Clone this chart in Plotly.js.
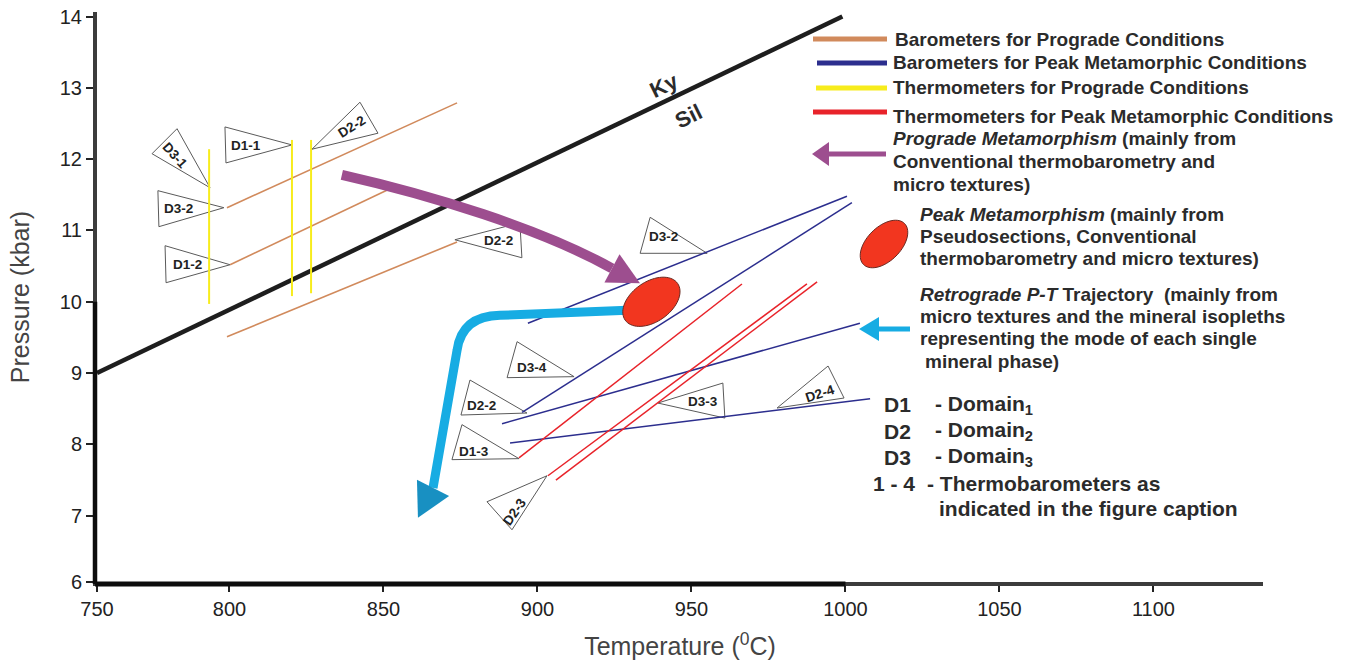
<!DOCTYPE html>
<html>
<head>
<meta charset="utf-8">
<script src="https://cdn.plot.ly/plotly-3.0.1.min.js"></script>
<style>
  html, body { margin: 0; padding: 0; background: #fff; }
  #chart { width: 1356px; height: 660px; }
</style>
</head>
<body>
<div id="chart"></div>
<script>
// ---- P-T data (temperature in deg C, pressure in kbar) ----

// kyanite / sillimanite boundary
const kySilT = [757, 999];
const kySilP = [9.0, 14.0];

// barometers for prograde conditions
const baroProT = [[799.2, 873.9], [800.2, 852.8], [799.2, 873.9]];
const baroProP = [[11.32, 12.79], [10.52, 11.60], [9.51, 10.84]];

// thermometers for prograde conditions
const thermoProT = [[793.4, 793.4], [820.3, 820.3], [826.5, 826.5]];
const thermoProP = [[12.14, 9.97], [12.27, 10.08], [12.27, 10.12]];

// barometers for peak metamorphic conditions
const baroPeakT = [[896.9, 1000.5], [895.0, 1002.1], [888.5, 1004.7], [891.1, 1008.0]];
const baroPeakP = [[9.70, 11.48], [8.45, 11.39], [8.29, 9.70], [8.02, 8.64]];

// thermometers for peak metamorphic conditions
const thermoPeakT = [[894.0, 966.4], [903.4, 987.5], [906.0, 990.8]];
const thermoPeakP = [[7.81, 10.25], [7.56, 10.25], [7.50, 10.28]];

// peak metamorphism field (centre)
const peakT = 937;
const peakP = 10.0;

// prograde path: start, two control points, shaft end, arrow tip
const progradeT = [836.5, 865.1, 900.8, 924.2, 933.3];
const progradeP = [11.78, 11.50, 11.03, 10.47, 10.26];

// retrograde path: start, corner, bend control, bend end, shaft end, arrow tip
const retroT = [929.1, 887.8, 875.5, 873.9, 866.1, 861.2];
const retroP = [9.88, 9.81, 9.80, 9.32, 7.39, 6.97];

// domain / thermobarometer flags and the P-T point each one marks
const flagLabels = ['D3-1', 'D1-1', 'D2-2', 'D3-2', 'D1-2', 'D2-2', 'D3-2', 'D3-4', 'D2-2', 'D1-3', 'D2-3', 'D3-3', 'D2-4'];
const flagT = [793.7, 820.3, 826.8, 798.2, 800.2, 873.2, 955.1, 911.9, 896.6, 894.0, 903.1, 939.1, 977.8];
const flagP = [11.60, 12.20, 12.14, 11.32, 10.52, 10.87, 10.68, 8.95, 8.44, 7.80, 7.56, 8.58, 8.51];

// axis ticks
const xTickVals = [757, 800, 850, 900, 950, 1000, 1050, 1100];
const xTickText = ['750', '800', '850', '900', '950', '1000', '1050', '1100'];
const yTickVals = [6.07, 7, 8, 9, 10, 11, 12, 13, 14];
const yTickText = ['6', '7', '8', '9', '10', '11', '12', '13', '14'];

// ---- layout geometry ----
const W = 1356, H = 660;
const M = { l: 97, r: 93, t: 12, b: 78 };
const PW = W - M.l - M.r, PH = H - M.t - M.b;
const xRange = [757, 757 + PW / 3.08];
const yRange = [6.07, 6.07 + PH / 71.3];

const COL = {
  ink: '#2b2b2b',
  kySil: '#1e1e1e',
  baroPro: '#d18a5c',
  thermoPro: '#f7ec1c',
  baroPeak: '#2c2e8e',
  thermoPeak: '#e8232a',
  prograde: '#9d4e8f',
  retro: '#17ace3',
  retroHead: '#1890c2',
  peak: '#f2361f',
  peakEdge: '#6a2a22'
};
const FONT = 'Liberation Sans, Arial, sans-serif';

function toPx(t, p) {
  return [M.l + (t - xRange[0]) / (xRange[1] - xRange[0]) * PW,
          M.t + PH - (p - yRange[0]) / (yRange[1] - yRange[0]) * PH];
}
function toData(x, y) {
  return [xRange[0] + (x - M.l) / PW * (xRange[1] - xRange[0]),
          yRange[0] + (M.t + PH - y) / PH * (yRange[1] - yRange[0])];
}
function toPaper(x, y) {
  return [(x - M.l) / PW, (M.t + PH - y) / PH];
}
function polyPath(pts, conv) {
  return pts.map((q, i) => {
    const d = conv(q[0], q[1]);
    return (i ? 'L' : 'M') + d[0].toFixed(5) + ',' + d[1].toFixed(5);
  }).join('') + 'Z';
}
function ellipsePath(cx, cy, a, b, deg, conv) {
  const th = deg * Math.PI / 180, pts = [];
  for (let i = 0; i < 72; i++) {
    const u = i / 72 * 2 * Math.PI;
    pts.push([cx + a * Math.cos(u) * Math.cos(th) - b * Math.sin(u) * Math.sin(th),
              cy - (a * Math.cos(u) * Math.sin(th) + b * Math.sin(u) * Math.cos(th))]);
  }
  return polyPath(pts, conv);
}
function headPath(base, tip, hw, conv) {
  const dx = tip[0] - base[0], dy = tip[1] - base[1], L = Math.hypot(dx, dy);
  const nx = -dy / L * hw, ny = dx / L * hw;
  return polyPath([[base[0] + nx, base[1] + ny], tip, [base[0] - nx, base[1] - ny]], conv);
}

// ---- traces ----
const traces = [];
function addSet(Ts, Ps, color, width) {
  Ts.forEach((t, i) => traces.push({
    type: 'scatter', mode: 'lines', x: t, y: Ps[i],
    line: { color: color, width: width }, hoverinfo: 'skip', showlegend: false
  }));
}
traces.push({ type: 'scatter', mode: 'lines', x: kySilT, y: kySilP,
  line: { color: COL.kySil, width: 4.5 }, hoverinfo: 'skip', showlegend: false });
addSet(baroProT, baroProP, COL.baroPro, 1.6);
addSet(thermoProT, thermoProP, COL.thermoPro, 2);
addSet(baroPeakT, baroPeakP, COL.baroPeak, 1.5);
addSet(thermoPeakT, thermoPeakP, COL.thermoPeak, 1.5);

// ---- shapes ----
const shapes = [];

// darker lower/left stretches of the axis lines
const ax0 = toPaper(M.l - 2, M.t + PH + 2);
const axX = toPaper(toPx(1000, 6.07)[0], 0)[0];
const axY = toPaper(0, toPx(757, 10)[1])[1];
shapes.push({ type: 'line', xref: 'paper', yref: 'paper', x0: ax0[0], x1: axX, y0: ax0[1], y1: ax0[1],
  line: { color: '#0d0d0d', width: 5 } });
shapes.push({ type: 'line', xref: 'paper', yref: 'paper', x0: ax0[0], x1: ax0[0], y0: ax0[1], y1: axY,
  line: { color: '#0d0d0d', width: 4.5 } });

// flag triangles (pixel offsets of the two base corners from the tip)
const flagGeom = [
  { a: [-58, -34], b: [-33, -59], t: [-35, -32], ang: 48 },
  { a: [-67, -18], b: [-66, 18], t: [-46, 1], ang: 0 },
  { a: [48, -47], b: [66, -16], t: [40, -23], ang: -32 },
  { a: [-66, -17], b: [-65, 19], t: [-45, 1], ang: 0 },
  { a: [-65, -19], b: [-64, 18], t: [-43, 0], ang: 0 },
  { a: [65, -17], b: [67, 18], t: [44, 1], ang: 0 },
  { a: [-57, -36], b: [-67, 0], t: [-44, -17], ang: 0 },
  { a: [-57, -35], b: [-67, 1], t: [-42, -9], ang: 0 },
  { a: [-57, -33], b: [-66, 2], t: [-45, -8], ang: 0 },
  { a: [-57, -34], b: [-67, 1], t: [-45, -7], ang: 0 },
  { a: [-60, 26], b: [-35, 54], t: [-32, 36], ang: -55 },
  { a: [65, -20], b: [67, 15], t: [45, -2], ang: 0 },
  { a: [51, -42], b: [67, -10], t: [43, -15], ang: -18 }
];
flagLabels.forEach((lab, i) => {
  const tip = toPx(flagT[i], flagP[i]), g = flagGeom[i];
  shapes.push({
    type: 'path', xref: 'x', yref: 'y', layer: 'below',
    path: polyPath([tip, [tip[0] + g.a[0], tip[1] + g.a[1]], [tip[0] + g.b[0], tip[1] + g.b[1]]], toData),
    fillcolor: '#ffffff', line: { color: '#5a5a5a', width: 1 }
  });
});

// retrograde trajectory
shapes.push({
  type: 'path', xref: 'x', yref: 'y',
  path: `M${retroT[0]},${retroP[0]} L${retroT[1]},${retroP[1]} Q${retroT[2]},${retroP[2]} ${retroT[3]},${retroP[3]} L${retroT[4]},${retroP[4]}`,
  line: { color: COL.retro, width: 9 }
});
shapes.push({
  type: 'path', xref: 'x', yref: 'y',
  path: headPath(toPx(retroT[4], retroP[4]), toPx(retroT[5], retroP[5]), 18, toData),
  fillcolor: COL.retroHead, line: { width: 0 }
});

// peak field
const pc = toPx(peakT, peakP);
shapes.push({
  type: 'path', xref: 'x', yref: 'y',
  path: ellipsePath(pc[0], pc[1], 32, 20, 35, toData),
  fillcolor: COL.peak, line: { color: COL.peakEdge, width: 1 }
});

// prograde trajectory
shapes.push({
  type: 'path', xref: 'x', yref: 'y',
  path: `M${progradeT[0]},${progradeP[0]} C${progradeT[1]},${progradeP[1]} ${progradeT[2]},${progradeP[2]} ${progradeT[3]},${progradeP[3]}`,
  line: { color: COL.prograde, width: 10 }
});
shapes.push({
  type: 'path', xref: 'x', yref: 'y',
  path: headPath(toPx(progradeT[3], progradeP[3]), toPx(progradeT[4], progradeP[4]), 16, toData),
  fillcolor: COL.prograde, line: { width: 0 }
});

// key symbols (pixel positions on the page)
function keyLine(x0, x1, y, color) {
  const a = toPaper(x0, y), b = toPaper(x1, y);
  shapes.push({ type: 'line', xref: 'paper', yref: 'paper', x0: a[0], y0: a[1], x1: b[0], y1: b[1],
    line: { color: color, width: 5 } });
}
keyLine(813, 887, 39, COL.baroPro);
keyLine(817, 887, 63, COL.baroPeak);
keyLine(816, 887, 88, COL.thermoPro);
keyLine(813, 887, 112, COL.thermoPeak);
keyLine(827, 886, 154, COL.prograde);
shapes.push({ type: 'path', xref: 'paper', yref: 'paper',
  path: headPath([829, 154], [812, 154], 12, toPaper), fillcolor: COL.prograde, line: { width: 0 } });
shapes.push({ type: 'path', xref: 'paper', yref: 'paper',
  path: ellipsePath(884, 244, 29, 17, 45, toPaper), fillcolor: COL.peak, line: { color: COL.peakEdge, width: 1 } });
keyLine(877, 910, 329, COL.retro);
shapes.push({ type: 'path', xref: 'paper', yref: 'paper',
  path: headPath([879, 329], [859, 329], 12, toPaper), fillcolor: COL.retro, line: { width: 0 } });

// ---- annotations ----
const annotations = [];
flagLabels.forEach((lab, i) => {
  const g = flagGeom[i];
  annotations.push({
    x: flagT[i], y: flagP[i], xref: 'x', yref: 'y', showarrow: false,
    xanchor: 'center', yanchor: 'middle', xshift: g.t[0], yshift: -g.t[1],
    textangle: g.ang, text: '<b>' + lab + '</b>',
    font: { family: FONT, size: 13.5, color: '#222' }
  });
});

function pageText(x, y, text, size, anchor, angle) {
  const p = toPaper(x, y);
  annotations.push({
    x: p[0], y: p[1], xref: 'paper', yref: 'paper', showarrow: false,
    xanchor: anchor || 'left', yanchor: 'middle', textangle: angle || 0,
    text: text, font: { family: FONT, size: size, color: COL.ink }
  });
}
pageText(664, 86, '<b>Ky</b>', 22, 'center', -26);
pageText(688, 116, '<b>Sil</b>', 22, 'center', -26);

const KEY = 19;
pageText(893, 39, '<b>Barometers for Prograde Conditions</b>', KEY);
pageText(891, 63, '<b>Barometers for Peak Metamorphic Conditions</b>', KEY);
pageText(891, 88, '<b>Thermometers for Prograde Conditions</b>', KEY);
pageText(891, 116, '<b>Thermometers for Peak Metamorphic Conditions</b>', KEY);
pageText(891, 138, '<b><i>Prograde Metamorphism</i> (mainly from</b>', KEY);
pageText(891, 161, '<b>Conventional thermobarometry and</b>', KEY);
pageText(891, 184, '<b>micro textures)</b>', KEY);
pageText(918, 214, '<b><i>Peak Metamorphism</i> (mainly from</b>', KEY);
pageText(918, 236, '<b>Pseudosections, Conventional</b>', KEY);
pageText(918, 258, '<b>thermobarometry and micro textures)</b>', KEY);
pageText(918, 294, '<b><i>Retrograde P-T</i> Trajectory  (mainly from</b>', KEY);
pageText(918, 316, '<b>micro textures and the mineral isopleths</b>', KEY);
pageText(918, 338, '<b>representing the mode of each single</b>', KEY);
pageText(923, 361, '<b>mineral phase)</b>', KEY);

const DK = 21;
pageText(882, 405, '<b>D1</b>', DK);
pageText(933, 405, '<b>- Domain<sub>1</sub></b>', DK);
pageText(882, 431, '<b>D2</b>', DK);
pageText(933, 431, '<b>- Domain<sub>2</sub></b>', DK);
pageText(882, 457, '<b>D3</b>', DK);
pageText(933, 457, '<b>- Domain<sub>3</sub></b>', DK);
pageText(871, 483, '<b>1 - 4</b>', DK);
pageText(925, 483, '<b>- Thermobarometers as</b>', DK);
pageText(937, 508, '<b>indicated in the figure caption</b>', DK);

const layout = {
  width: W, height: H, margin: M,
  paper_bgcolor: '#ffffff', plot_bgcolor: '#ffffff',
  showlegend: false, hovermode: false,
  font: { family: FONT, color: '#222' },
  xaxis: {
    range: xRange, showgrid: false, zeroline: false,
    showline: true, linecolor: '#3c3c3c', linewidth: 4,
    ticks: 'outside', ticklen: 6, tickwidth: 2, tickcolor: '#222',
    tickvals: xTickVals, ticktext: xTickText,
    tickfont: { family: 'Liberation Sans Narrow, Liberation Sans, Arial, sans-serif', size: 20, color: '#222' },
    title: { text: 'Temperature (<sup>0</sup>C)', font: { family: FONT, size: 25, color: '#444' }, standoff: 20 }
  },
  yaxis: {
    range: yRange, showgrid: false, zeroline: false,
    showline: true, linecolor: '#3c3c3c', linewidth: 4,
    ticks: 'outside', ticklen: 7, tickwidth: 2, tickcolor: '#222',
    tickvals: yTickVals, ticktext: yTickText,
    tickfont: { family: FONT, size: 20, color: '#222' },
    title: { text: 'Pressure (kbar)', font: { family: FONT, size: 25, color: '#444' }, standoff: 24 }
  },
  shapes: shapes,
  annotations: annotations
};

Plotly.newPlot('chart', traces, layout, { displayModeBar: false, staticPlot: true });
</script>
</body>
</html>
